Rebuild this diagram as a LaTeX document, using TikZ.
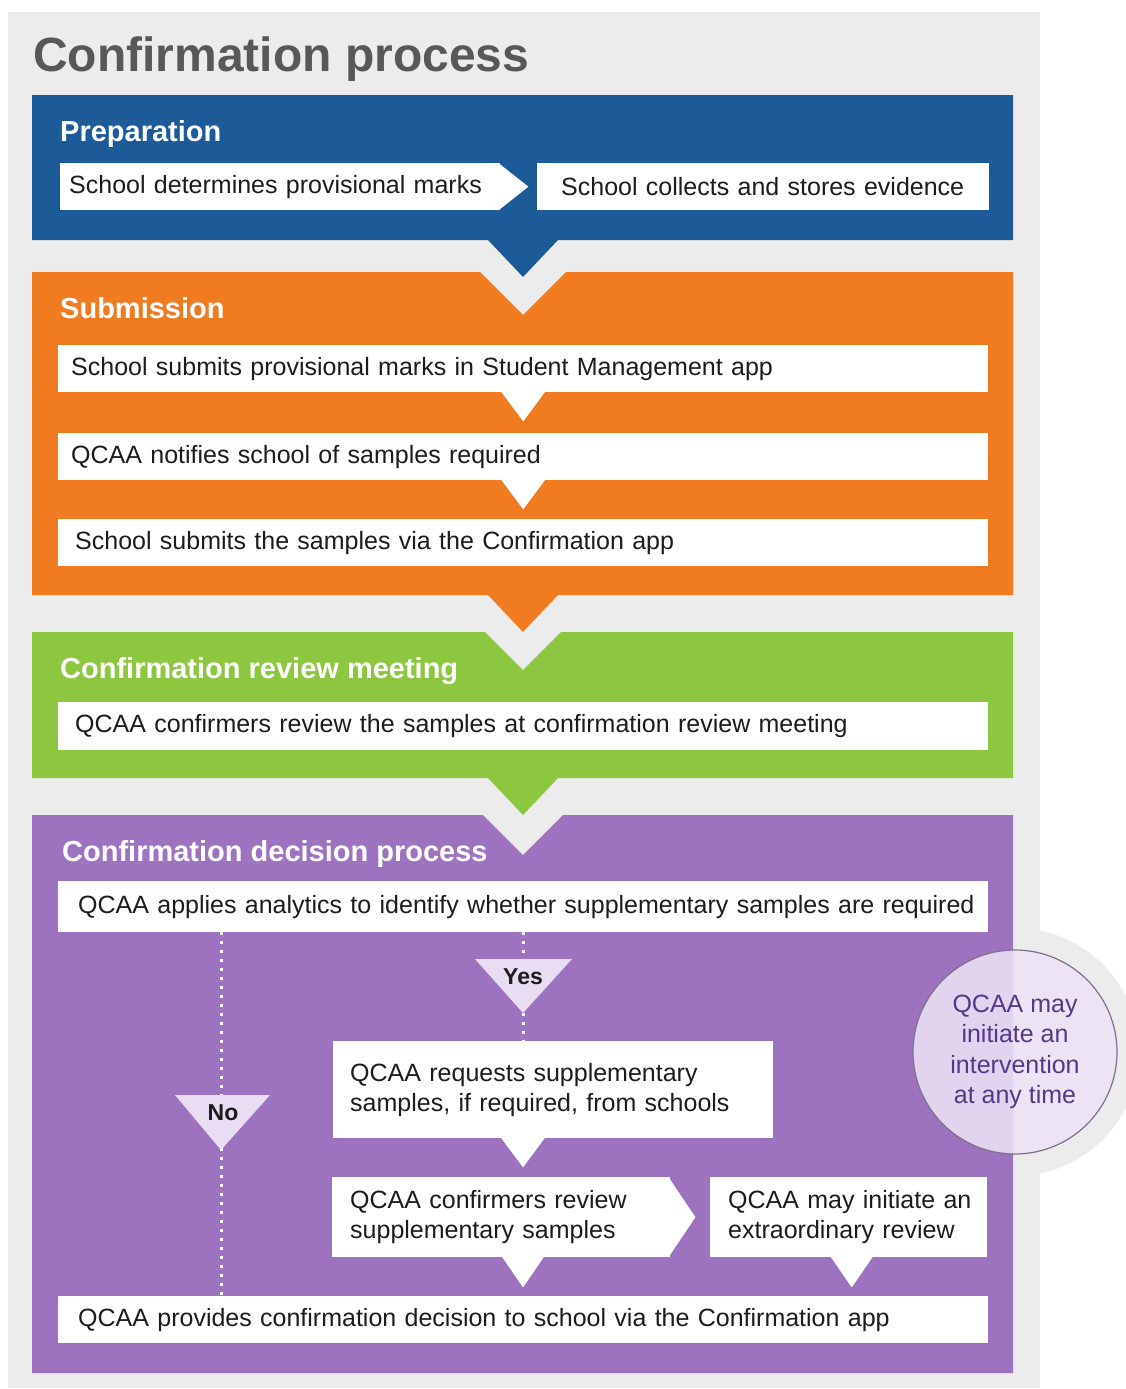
\documentclass[tikz,border=0pt]{standalone}
\usepackage{fontspec}
\setmainfont{Liberation Sans}
\usetikzlibrary{calc,shapes.geometric}
\definecolor{panel}{RGB}{236,236,237}
\definecolor{titlegray}{RGB}{88,88,90}
\definecolor{qblue}{RGB}{28,90,152}
\definecolor{qorange}{RGB}{240,123,33}
\definecolor{qgreen}{RGB}{141,198,63}
\definecolor{qpurple}{RGB}{157,115,192}
\definecolor{lav}{RGB}{233,221,243}
\definecolor{circfill}{RGB}{236,226,246}
\definecolor{circline}{RGB}{125,112,140}
\definecolor{circtext}{RGB}{85,55,135}
\definecolor{ink}{RGB}{28,28,28}
\newcommand\qbody{\fontsize{25}{30}\selectfont}
\newcommand\qhead{\fontsize{29}{34}\selectfont\bfseries}
\tikzset{
  box/.style={fill=white, inner ysep=0pt, anchor=north west, align=left, font=\qbody, text=ink},
  head/.style={anchor=base west, inner sep=0pt, font=\qhead, text=white},
  tab/.style={fill=white},
  dotline/.style={white, line width=3pt, dash pattern=on 3pt off 6pt},
  ansnode/.style={inner sep=0pt, font=\fontsize{23}{27}\selectfont\bfseries, text=ink}
}
\begin{document}
\begin{tikzpicture}[x=1pt,y=-1pt]
\useasboundingbox (0,0) rectangle (1126,1389);
\fill[white] (0,0) rectangle (1126,1389);
\fill[panel] (8,12) rectangle (1040,1388);
\fill[panel] (1015,1052) circle[radius=124];
\coordinate (cx) at (523,0);
\coordinate (nox) at (221,0);

% title
\node[anchor=base west, inner sep=0pt, font=\fontsize{48}{56}\selectfont\bfseries, text=titlegray] (title) at (33,71) {Confirmation process};

% bands
\fill[qblue] (32,95) -- (1013,95) -- (1013,240) -- (558,240) -- (523,277) -- (488,240) -- (32,240) -- cycle;
\fill[qorange] (32,272) -- (480,272) -- (523,315) -- (566,272) -- (1013,272) -- (1013,595) -- (558,595) -- (523,632) -- (488,595) -- (32,595) -- cycle;
\fill[qgreen] (32,632) -- (485,632) -- (523,670) -- (561,632) -- (1013,632) -- (1013,778) -- (558,778) -- (523,815) -- (488,778) -- (32,778) -- cycle;
\fill[qpurple] (32,815) -- (483,815) -- (523,855) -- (563,815) -- (1013,815) -- (1013,1373) -- (32,1373) -- cycle;

% headings
\node[head] (hprep) at (60,141) {Preparation};
\node[head] (hsub) at (60,318) {Submission};
\node[head] (hconf) at (60,678) {Confirmation review meeting};
\node[head] (hdec) at (62,861) {Confirmation decision process};

% preparation
\node[box, inner xsep=9pt, text width=422pt, minimum height=47pt] (p1) at (60,163) {\raisebox{-1pt}{School determines provisional marks}};
\fill[tab] ($(p1.north east)+(-2,0)$) -- ($(p1.east)+(28,0)$) -- ($(p1.south east)+(-2,0)$) -- cycle;
\node[box, inner xsep=24pt, text width=404pt, minimum height=47pt] (p2) at (537,163) {School collects and stores evidence};

% submission
\node[box, inner xsep=13pt, text width=904pt, minimum height=47pt] (s1) at (58,345) {School submits provisional marks in Student Management app};
\fill[tab] ($(s1.south)+(-23,-2)$) -- ($(s1.south)+(0,29)$) -- ($(s1.south)+(23,-2)$) -- cycle;
\node[box, inner xsep=13pt, text width=904pt, minimum height=47pt] (s2) at (58,433) {\raisebox{-1pt}{QCAA notifies school of samples required}};
\fill[tab] ($(s2.south)+(-23,-2)$) -- ($(s2.south)+(0,29)$) -- ($(s2.south)+(23,-2)$) -- cycle;
\node[box, inner xsep=17pt, text width=896pt, minimum height=47pt] (s3) at (58,519) {School submits the samples via the Confirmation app};

% confirmation review meeting
\node[box, inner xsep=17pt, text width=896pt, minimum height=48pt] (g1) at (58,702) {\raisebox{-1pt}{QCAA confirmers review the samples at confirmation review meeting}};

% decision process
\node[box, inner xsep=20pt, text width=890pt, minimum height=51pt] (a1) at (58,881) {\mbox{QCAA applies analytics to identify whether supplementary samples are required}};

\node[box, inner xsep=17pt, text width=406pt, minimum height=97pt] (r1) at (333,1041) {QCAA requests supplementary\\samples, if required, from schools};
\fill[tab] ($(r1.south -| cx)+(-23,-2)$) -- ($(r1.south -| cx)+(0,29)$) -- ($(r1.south -| cx)+(23,-2)$) -- cycle;

\node[box, inner xsep=18pt, text width=302pt, minimum height=80pt] (c1) at (332,1177) {QCAA confirmers review\\supplementary samples};
\fill[tab] ($(c1.north east)+(-2,0)$) -- ($(c1.east)+(25,0)$) -- ($(c1.south east)+(-2,0)$) -- cycle;
\fill[tab] ($(c1.south -| cx)+(-22,-2)$) -- ($(c1.south -| cx)+(0,30)$) -- ($(c1.south -| cx)+(22,-2)$) -- cycle;

\node[box, inner xsep=18pt, text width=241pt, minimum height=80pt] (e1) at (710,1177) {\mbox{QCAA may initiate an}\\extraordinary review};
\fill[tab] ($(e1.south)+(-19,-2)$) -- ($(e1.south)+(3,30)$) -- ($(e1.south)+(25,-2)$) -- cycle;

\node[box, inner xsep=20pt, text width=890pt, minimum height=47pt] (f1) at (58,1296) {QCAA provides confirmation decision to school via the Confirmation app};

% dotted decision lines
\draw[dotline] (a1.south -| nox) -- (f1.north -| nox);
\draw[dotline] (a1.south -| cx) -- (r1.north -| cx);

% yes / no markers
\fill[lav] (475,959) -- (572,959) -- (523,1013) -- cycle;
\node[ansnode] (yes) at (523,977) {Yes};
\fill[lav] (175,1095) -- (270,1095) -- (221,1150) -- cycle;
\node[ansnode] (no) at (223,1113) {No};

% intervention circle
\node[circle, minimum size=204pt, inner sep=0pt, fill=circfill, fill opacity=0.88, text opacity=1, draw=circline, draw opacity=1, line width=1.2pt, align=center, text=circtext, font=\fontsize{25}{30.5}\selectfont] (interv) at (1015,1052) {QCAA may\\initiate an\\intervention\\at any time};
\end{tikzpicture}
\end{document}
